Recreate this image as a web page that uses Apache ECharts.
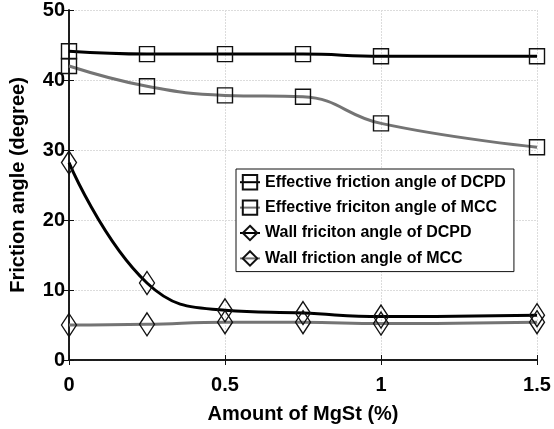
<!DOCTYPE html>
<html><head><meta charset="utf-8">
<script src="https://cdn.jsdelivr.net/npm/echarts@6/dist/echarts.min.js"></script>
<style>html,body{margin:0;padding:0;background:#fff}#c{width:554px;height:429px}</style>
</head><body><div id="c"></div>
<script>
const xValues = [0, 0.25, 0.5, 0.75, 1, 1.5];
const effDCPD = [44.1, 43.7, 43.7, 43.7, 43.4, 43.4];
const effMCC = [42.0, 39.1, 37.8, 37.6, 33.8, 30.4];
const wallDCPD = [28.2, 11.0, 7.1, 6.7, 6.2, 6.4];
const wallMCC = [5.0, 5.1, 5.4, 5.4, 5.2, 5.4];
const seriesNames = ['Effective friction angle of DCPD', 'Effective friciton angle of MCC', 'Wall friciton angle of DCPD', 'Wall friction angle of MCC'];
const xTicks = [0, 0.5, 1, 1.5];

const F = 'Liberation Sans, Arial, sans-serif';
const BLACK = '#000', GRAY = '#747474';
function pairs(ys){ return xValues.map((x,i)=>[x, ys[i]]); }
function mk(name, ys, color, sym, size){
  return {name, type:'line', data:pairs(ys), smooth:0.45, clip:false,
    symbol:sym, symbolSize:size,
    lineStyle:{color, width:3},
    itemStyle:{color:'rgba(255,255,255,0)', borderColor:'#111', borderWidth:1.4},
    emphasis:{disabled:true}, z:3};
}
const chart = echarts.init(document.getElementById('c'));
const axisCommon = {
  axisLine:{lineStyle:{color:'#111', width:1.5}},
  axisTick:{inside:true, length:5, lineStyle:{color:'#111', width:1}},
};
chart.setOption({
  animation:false,
  grid:{left:60, right:17, top:10, bottom:65},
  legend:{orient:'vertical', left:236, top:169, padding:[5,8,5,3], itemGap:9,
    itemWidth:20, itemHeight:18, backgroundColor:'#fff', borderColor:'#111', borderWidth:1,
    textStyle:{fontFamily:F, fontWeight:'bold', fontSize:16, color:'#000'},
    data:seriesNames, z:10},
  xAxis:[
    Object.assign({type:'value', min:0, max:1.5, interval:0.5, position:'bottom',
      name:'Amount of MgSt (%)', nameLocation:'middle', nameGap:44,
      nameTextStyle:{fontFamily:F, fontWeight:'bold', fontSize:20, color:'#000'},
      axisLabel:{fontFamily:F, fontWeight:'bold', fontSize:20, color:'#000', margin:15,
        formatter:v=>xTicks.includes(v)?String(v):''},
      splitLine:{show:true, lineStyle:{color:'#dcdcdc', width:1, type:[2,1]}}}, axisCommon),
    Object.assign({type:'value', min:0, max:1.5, interval:0.5, position:'top',
      axisLabel:{show:false}, splitLine:{show:false}}, axisCommon)
  ],
  yAxis:[
    Object.assign({type:'value', min:0, max:50, interval:10, position:'left',
      name:'Friction angle (degree)', nameLocation:'middle', nameGap:41,
      nameTextStyle:{fontFamily:F, fontWeight:'bold', fontSize:20, color:'#000'},
      axisLabel:{fontFamily:F, fontWeight:'bold', fontSize:20, color:'#000', margin:4},
      splitLine:{show:true, lineStyle:{color:'#dcdcdc', width:1, type:[2,1]}}}, axisCommon),
    Object.assign({type:'value', min:0, max:50, interval:10, position:'right',
      axisLabel:{show:false}, splitLine:{show:false}}, axisCommon)
  ],
  series:[
    mk(seriesNames[0], effDCPD, BLACK, 'rect', 15),
    mk(seriesNames[1], effMCC, GRAY, 'rect', 15),
    mk(seriesNames[2], wallDCPD, BLACK, 'diamond', [15,23]),
    mk(seriesNames[3], wallMCC, GRAY, 'diamond', [15,23])
  ]
});
</script></body></html>
